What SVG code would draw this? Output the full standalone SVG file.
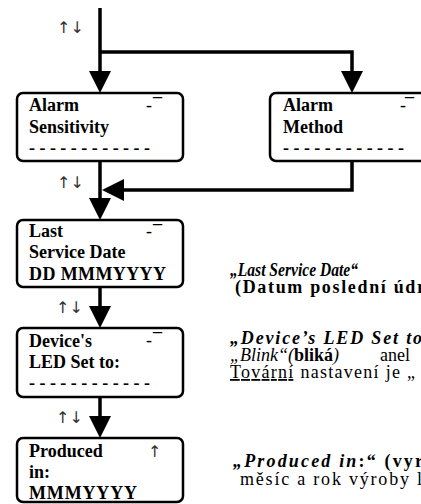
<svg xmlns="http://www.w3.org/2000/svg" width="421" height="504" viewBox="0 0 421 504">
<defs>
<style>
.box{fill:#fff;stroke:#000;stroke-width:2.5}
.conn{fill:none;stroke:#000;stroke-width:3.5}
.t{font-size:18px;font-weight:bold;fill:#000}
.ind{font-size:18px;fill:#000}
.arr{font-size:16px;fill:#333}
.r{font-size:18px;fill:#000}
.bi{font-weight:bold;font-style:italic}
.b{font-weight:bold}
.i{font-style:italic}
</style>
<marker id="ah" viewBox="0 0 22 22" refX="18" refY="11" markerWidth="22" markerHeight="22" markerUnits="userSpaceOnUse" orient="auto"><path d="M0,0 L22,11 L0,22 z" fill="#000"/></marker>
</defs>
<rect width="421" height="504" fill="#fff"/>
<g id="connectors">
<path class="conn" d="M100,8 V89" marker-end="url(#ah)"/>
<path class="conn" d="M100,52 H352 V89" marker-end="url(#ah)"/>
<path class="conn" d="M100,161 V216" marker-end="url(#ah)"/>
<path class="conn" d="M352,161 V190 H106" marker-end="url(#ah)"/>
<path class="conn" d="M100,287 V324" marker-end="url(#ah)"/>
<path class="conn" d="M100,397 V434" marker-end="url(#ah)"/>
</g>
<g id="keys" font-family="DejaVu Sans, sans-serif">
<text class="arr" x="57" y="33">↑↓</text>
<text class="arr" x="57" y="188">↑↓</text>
<text class="arr" x="56" y="313">↑↓</text>
<text class="arr" x="56" y="423">↑↓</text>
</g>
<g font-family="Liberation Serif, Times New Roman, serif">
<g id="alarm-sensitivity">
<rect class="box" x="17" y="93" width="166" height="68" rx="6"/>
<text class="t" x="29" y="111">Alarm</text>
<text class="t" x="29" y="133">Sensitivity</text>
<text class="t" x="29" y="154" textLength="121" lengthAdjust="spacing">------------</text>
<text class="ind" x="146" y="111">-</text>
<text class="ind" x="153" y="110" font-family="DejaVu Sans, sans-serif">‾</text>
</g>
<g id="alarm-method">
<rect class="box" x="270" y="93" width="170" height="68" rx="6"/>
<text class="t" x="283" y="111">Alarm</text>
<text class="t" x="283" y="133">Method</text>
<text class="t" x="283" y="154" textLength="121" lengthAdjust="spacing">------------</text>
<text class="ind" x="400" y="111">-</text>
<text class="ind" x="405" y="110" font-family="DejaVu Sans, sans-serif">‾</text>
</g>
<g id="last-service-date">
<rect class="box" x="17" y="220" width="166" height="67" rx="6"/>
<text class="t" x="29" y="237">Last</text>
<text class="t" x="29" y="258">Service Date</text>
<text class="t" x="29" y="280" textLength="137">DD MMMYYYY</text>
<text class="ind" x="146" y="237">-</text>
<text class="ind" x="153" y="237" font-family="DejaVu Sans, sans-serif">‾</text>
</g>
<g id="device-led">
<rect class="box" x="17" y="328" width="166" height="69" rx="6"/>
<text class="t" x="29" y="347">Device's</text>
<text class="t" x="29" y="368">LED Set to:</text>
<text class="t" x="29" y="389" textLength="121" lengthAdjust="spacing">------------</text>
<text class="ind" x="146" y="346">-</text>
<text class="ind" x="153" y="345" font-family="DejaVu Sans, sans-serif">‾</text>
</g>
<g id="produced-in">
<rect class="box" x="17" y="438" width="166" height="64" rx="6"/>
<text class="t" x="29" y="457">Produced</text>
<text class="t" x="29" y="478">in:</text>
<text class="t" x="29" y="499" textLength="108">MMMYYYY</text>
<text class="arr" x="148" y="457" font-family="DejaVu Sans, sans-serif">↑</text>
</g>
<g id="notes">
<text class="r" x="230" y="276" textLength="128" lengthAdjust="spacingAndGlyphs"><tspan class="bi">„Last Service Date“</tspan></text>
<text class="r" x="235" y="293" textLength="190" lengthAdjust="spacing"><tspan class="b">(Datum poslední údr</tspan></text>
<text class="r" x="230" y="344" textLength="192" lengthAdjust="spacing"><tspan class="bi">„Device’s LED Set to</tspan></text>
<text class="r" x="230" y="361"><tspan class="i">„Blink“(</tspan><tspan class="b">bliká</tspan><tspan class="i">)</tspan></text>
<text class="r" x="380" y="361">anel</text>
<text class="r" x="230" y="378" textLength="185" lengthAdjust="spacing"><tspan text-decoration="underline">Tovární</tspan> nastavení je „</text>
<text class="r" x="233" y="467" textLength="190" lengthAdjust="spacing"><tspan class="bi">„Produced in</tspan><tspan class="b">:“  (vyr</tspan></text>
<text class="r" x="240" y="485" textLength="182" lengthAdjust="spacing">měsíc a rok výroby l</text>
</g>
</g>
</svg>
